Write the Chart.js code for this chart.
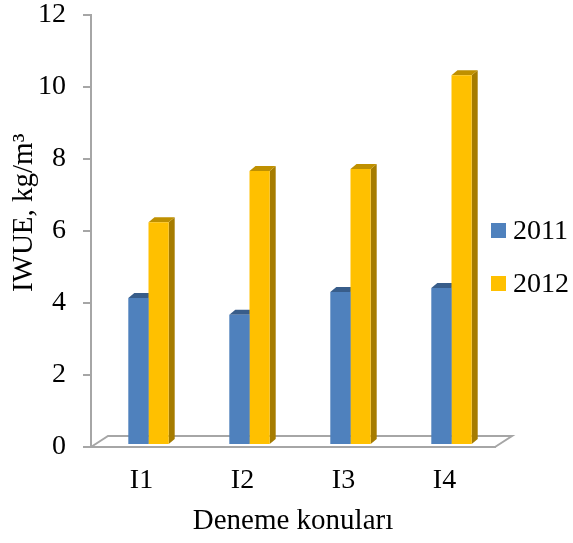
<!DOCTYPE html>
<html>
<head>
<meta charset="utf-8">
<script src="https://cdn.jsdelivr.net/npm/chart.js@4.4.1/dist/chart.umd.min.js"></script>
<style>
  body { margin: 0; background: #fff; }
  #wrap { position: relative; width: 573px; height: 543px; }
  #legend { position: absolute; left: 491px; top: 216px; font-family: 'Liberation Serif', serif; font-size: 28px; line-height: 27px; color: #000; }
  .item { display: flex; align-items: flex-start; height: 53px; }
  .box { width: 15px; height: 15px; margin-top: 7px; margin-right: 7px; }
</style>
</head>
<body>
<div id="wrap">
  <canvas id="chart" width="573" height="543"></canvas>
  <div id="legend"></div>
</div>
<script>
const categories = ['I1', 'I2', 'I3', 'I4'];
const seriesNames = ['2011', '2012'];
const values2011 = [4.08, 3.62, 4.25, 4.36];
const values2012 = [6.19, 7.61, 7.67, 10.27];
const yTicks = [0, 2, 4, 6, 8, 10, 12];

const frontColors = ['#4F81BD', '#FFC000'];
const topColors = ['#385D8A', '#BF9000'];
const sideColors = ['#2C4D75', '#A67C00'];
const GREY = '#A6A6A6';
const FONT = "'Liberation Serif', 'Times New Roman', serif";

// fake 3d: bars stand a bit behind the front edge of the floor
const SHIFT_X = 7, SHIFT_Y = 2;
const DEPTH_X = 6, DEPTH_Y = 5;
const FLOOR_X = 17, FLOOR_Y = 11;

const bars3d = {
  id: 'bars3d',
  beforeDatasetsDraw(chart) {
    const ctx = chart.ctx;
    const area = chart.chartArea;

    // floor (back edge and the two sides)
    ctx.save();
    ctx.strokeStyle = GREY;
    ctx.lineWidth = 2;
    ctx.beginPath();
    ctx.moveTo(area.left, area.bottom);
    ctx.lineTo(area.left + FLOOR_X, area.bottom - FLOOR_Y);
    ctx.lineTo(area.right + FLOOR_X, area.bottom - FLOOR_Y);
    ctx.lineTo(area.right, area.bottom);
    ctx.stroke();
    ctx.restore();

    // shift everything the bars draw, restored in afterDatasetsDraw
    ctx.save();
    ctx.translate(SHIFT_X, -SHIFT_Y);

    chart.data.datasets.forEach((ds, i) => {
      chart.getDatasetMeta(i).data.forEach(bar => {
        const x0 = bar.x - bar.width / 2;
        const x1 = bar.x + bar.width / 2;
        const top = bar.y;
        const base = bar.base;
        // side
        ctx.fillStyle = sideColors[i];
        ctx.beginPath();
        ctx.moveTo(x1, top);
        ctx.lineTo(x1 + DEPTH_X, top - DEPTH_Y);
        ctx.lineTo(x1 + DEPTH_X, base - DEPTH_Y);
        ctx.lineTo(x1, base);
        ctx.closePath();
        ctx.fill();
        // top
        ctx.fillStyle = topColors[i];
        ctx.beginPath();
        ctx.moveTo(x0, top);
        ctx.lineTo(x0 + DEPTH_X, top - DEPTH_Y);
        ctx.lineTo(x1 + DEPTH_X, top - DEPTH_Y);
        ctx.lineTo(x1, top);
        ctx.closePath();
        ctx.fill();
      });
    });
  },
  afterDatasetsDraw(chart) {
    chart.ctx.restore();
  }
};

const chart = new Chart(document.getElementById('chart'), {
  type: 'bar',
  data: {
    labels: categories,
    datasets: [
      { label: seriesNames[0], data: values2011, backgroundColor: frontColors[0] },
      { label: seriesNames[1], data: values2012, backgroundColor: frontColors[1] }
    ]
  },
  options: {
    responsive: false,
    animation: false,
    devicePixelRatio: 1,
    layout: { padding: { left: 0, right: 78, top: 0, bottom: 0 } },
    datasets: { bar: { categoryPercentage: 0.4, barPercentage: 1 } },
    plugins: { legend: { display: false }, tooltip: { enabled: false } },
    scales: {
      x: {
        grid: { display: false },
        border: { display: true, color: GREY, width: 2 },
        ticks: { color: '#000', font: { family: FONT, size: 28 }, padding: 9 },
        title: { display: true, text: 'Deneme konuları', color: '#000', font: { family: FONT, size: 29 }, padding: { top: 4 } },
        afterFit: s => { s.height = 96; }
      },
      y: {
        min: 0,
        max: 12,
        afterBuildTicks: s => { s.ticks = yTicks.map(v => ({ value: v })); },
        grid: { display: true, drawOnChartArea: false, drawTicks: true, tickLength: 8, color: GREY, lineWidth: 2 },
        border: { display: true, color: GREY, width: 2 },
        ticks: { color: '#000', font: { family: FONT, size: 28 }, padding: 17 },
        title: { display: true, text: '     IWUE, kg/m³', color: '#000', font: { family: FONT, size: 29 }, padding: { top: 7 } },
        afterFit: s => { s.width = 91; s.paddingTop = 15; s.paddingBottom = 0; }
      }
    }
  },
  plugins: [bars3d]
});

// legend on the right, built from the datasets
const legend = document.getElementById('legend');
chart.data.datasets.forEach(ds => {
  const item = document.createElement('div');
  item.className = 'item';
  item.innerHTML = `<span class="box" style="background:${ds.backgroundColor}"></span><span>${ds.label}</span>`;
  legend.appendChild(item);
});
</script>
</body>
</html>
